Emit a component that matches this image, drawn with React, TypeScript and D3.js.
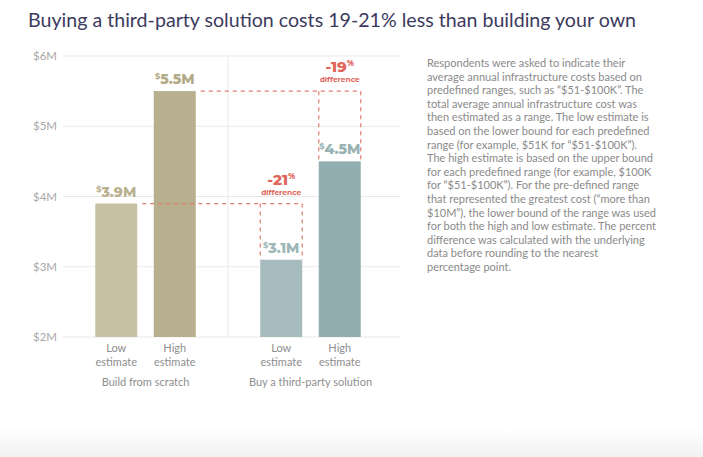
import React from "react";
import * as d3 from "d3";

const groups = ["Build from scratch", "Buy a third-party solution"];
const estimates = ["Low", "High"];
const buildValues = [3.9, 5.5];
const buyValues = [3.1, 4.5];
const diffLabels = ["-21", "-19"];
const yTicks = [2, 3, 4, 5, 6];
const valueText = ["3.9M", "5.5M", "3.1M", "4.5M"];
const barColors = ["#c8c1a3", "#b7af8d", "#a6bbbe", "#93aeb0"];
const labelColors = ["#b9b190", "#b3ab88", "#9fb6b8", "#98b1b3"];

const note = [
  "Respondents were asked to indicate their",
  "average annual infrastructure costs based on",
  "predefined ranges, such as \u201C$51-$100K\u201D. The",
  "total average annual infrastructure cost was",
  "then estimated as a range. The low estimate is",
  "based on the lower bound for each predefined",
  "range (for example, $51K for \u201C$51-$100K\u201D).",
  "The high estimate is based on the upper bound",
  "for each predefined range (for example, $100K",
  "for \u201C$51-$100K\u201D). For the pre-defined range",
  "that represented the greatest cost (\u201Cmore than",
  "$10M\u201D), the lower bound of the range was used",
  "for both the high and low estimate. The percent",
  "difference was calculated with the underlying",
  "data before rounding to the nearest",
  "percentage point.",
];

const W = 703;
const H = 457;

export default function App() {
  const y = d3.scaleLinear().domain([2, 6]).range([337, 56]);
  const outer = d3.scaleBand<string>().domain(groups).range([63, 393]).paddingInner(0);
  const inner = d3.scaleBand<string>().domain(estimates).range([24, 141]).paddingInner(0.282).paddingOuter(0.141);

  const series = [buildValues, buyValues];
  const bars: { x: number; w: number; v: number; i: number }[] = [];
  series.forEach((vals, gi) => {
    vals.forEach((v, ei) => {
      bars.push({
        x: (outer(groups[gi]) as number) + (inner(estimates[ei]) as number),
        w: inner.bandwidth(),
        v,
        i: gi * 2 + ei,
      });
    });
  });

  const sans = "Lato, 'Open Sans', sans-serif";
  const bold = "Montserrat, 'Open Sans', Roboto, sans-serif";
  const dash = "#e27b72";
  const red = "#e0675c";

  const guides = [0, 1].map((ei) => {
    const b = bars[ei];
    const t = bars[2 + ei];
    return { from: b, to: t, label: diffLabels[ei] };
  });

  return (
    <svg width={W} height={H} style={{ position: "absolute", left: 0, top: 0, background: "#fff" }}>
      <defs>
        <linearGradient id="band" x1="0" y1="0" x2="0" y2="1">
          <stop offset="0" stopColor="#ffffff" />
          <stop offset="1" stopColor="#f1f1f1" />
        </linearGradient>
      </defs>
      <rect x={0} y={0} width={W} height={H} fill="#fff" />
      <rect x={0} y={428} width={W} height={H - 428} fill="url(#band)" />

      <text x={28} y={27} fontFamily={sans} fontSize={20} fill="#3c3a5e" textLength={608} lengthAdjust="spacingAndGlyphs">
        Buying a third-party solution costs 19-21% less than building your own
      </text>

      {yTicks.map((t) => (
        <g key={t}>
          <line x1={63} x2={400} y1={y(t)} y2={y(t)} stroke="#e9e9e9" strokeWidth={1} />
          <text x={57} y={y(t) + 4} textAnchor="end" fontFamily={sans} fontSize={11.5} fill="#a8a8a8">
            ${t}M
          </text>
        </g>
      ))}
      <line x1={228} x2={228} y1={y(6)} y2={y(2)} stroke="#e9e9e9" strokeWidth={1} />

      {bars.map((b) => (
        <rect key={b.i} x={b.x} y={y(b.v)} width={b.w} height={y(2) - y(b.v)} fill={barColors[b.i]} />
      ))}

      {guides.map((g, k) => {
        const yTop = y(g.from.v);
        const yBot = y(g.to.v);
        const xl = g.to.x;
        const xr = g.to.x + g.to.w;
        const cx = (xl + xr) / 2;
        return (
          <g key={k}>
            <line x1={g.from.x + g.from.w + 5} x2={xr} y1={yTop} y2={yTop} stroke={dash} strokeWidth={1.2} strokeDasharray="4,4" />
            <line x1={xl} x2={xl} y1={yTop} y2={yBot} stroke={dash} strokeWidth={1.2} strokeDasharray="4,4" />
            <line x1={xr} x2={xr} y1={yTop} y2={yBot} stroke={dash} strokeWidth={1.2} strokeDasharray="4,4" />
            <text x={cx} y={yTop - 19} textAnchor="middle" fontFamily={bold} fontWeight={800} fontSize={15} fill={red}>
              {g.label}
              <tspan fontSize={8} dy={-6}>%</tspan>
            </text>
            <text x={cx} y={yTop - 9} textAnchor="middle" fontFamily={bold} fontWeight={700} fontSize={7.5} fill={red}>
              difference
            </text>
          </g>
        );
      })}

      {bars.map((b) => (
        <text key={"v" + b.i} x={b.x + b.w / 2} y={y(b.v) - 7} textAnchor="middle" fontFamily={bold} fontWeight={800} fontSize={14} fill={labelColors[b.i]}>
          <tspan fontSize={8} dy={-5}>$</tspan>
          <tspan dy={5}>{valueText[b.i]}</tspan>
        </text>
      ))}

      {bars.map((b) => (
        <text key={"x" + b.i} x={b.x + b.w / 2} y={352} textAnchor="middle" fontFamily={sans} fontSize={11} fill="#8e8e8e">
          <tspan x={b.x + b.w / 2}>{estimates[b.i % 2]}</tspan>
          <tspan x={b.x + b.w / 2} dy={14}>estimate</tspan>
        </text>
      ))}

      {groups.map((g) => (
        <text key={g} x={(outer(g) as number) + 82.5} y={386} textAnchor="middle" fontFamily={sans} fontSize={11} fill="#8e8e8e">
          {g}
        </text>
      ))}

      <text fontFamily={sans} fontSize={11} fill="#8a8a8a">
        {note.map((l, i) => (
          <tspan key={i} x={427} y={67 + i * 13.6}>
            {l}
          </tspan>
        ))}
      </text>
    </svg>
  );
}
